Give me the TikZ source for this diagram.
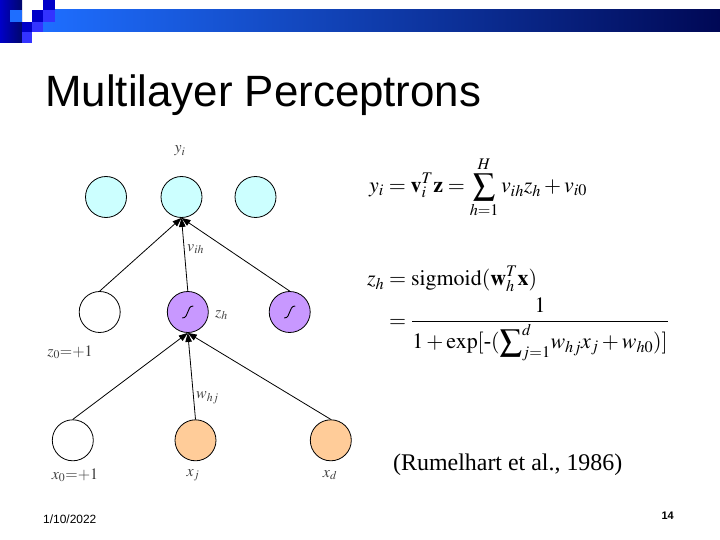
\documentclass[tikz,border=0pt]{standalone}
\usepackage{amsmath}
\usepackage{mathptmx}
\usepackage[no-math]{fontspec}
\newfontfamily\slidesans{Liberation Sans}
\newfontfamily\slideserif{Liberation Serif}
\usetikzlibrary{arrows.meta}

\definecolor{hdrdark}{RGB}{0,0,200}
\definecolor{hdrmid}{RGB}{51,51,255}
\definecolor{hdrbright}{RGB}{30,110,255}
\definecolor{hdrnavy}{RGB}{0,8,85}
\definecolor{outfill}{RGB}{204,255,255}
\definecolor{hidfill}{RGB}{200,152,255}
\definecolor{infill}{RGB}{255,204,153}

\begin{document}
\begin{tikzpicture}[x=1bp,y=-1bp,
  neuron/.style={draw,circle,minimum size=41bp,inner sep=0pt,line width=0.8bp},
  outunit/.style={neuron,fill=outfill},
  biasunit/.style={neuron,fill=white},
  inunit/.style={neuron,fill=infill},
  hidunit/.style={neuron,fill=hidfill,
    path picture={\draw[line width=0.9bp] ([shift={(-5.5,6)}]path picture bounding box.center)
      .. controls +(7,0) and +(-7,0) .. ([shift={(5.5,-6)}]path picture bounding box.center);}},
  conn/.style={-{Triangle[length=9bp,width=6.5bp]},line width=0.8bp},
  lbl/.style={text=black!75,font=\fontsize{16}{18}\selectfont,inner sep=0pt},
  eqn/.style={inner sep=0pt,font=\fontsize{22}{26}\selectfont}
]
\useasboundingbox[fill=white] (0,0) rectangle (720,540);

% slide header
\fill[left color=hdrdark,right color=hdrnavy!80!hdrdark] (0,0) rectangle (22,43);
\fill[left color=hdrbright,middle color={rgb,255:red,0;green,80;blue,200},right color=hdrnavy] (43,10) rectangle (720,32);
\fill[hdrbright] (10,10) rectangle (22,22);
\fill[hdrdark] (43,0) rectangle (55,10);
\fill[hdrdark] (32,10) rectangle (43,22);
\fill[hdrmid] (43,10) rectangle (55,22);
\fill[hdrdark] (22,22) rectangle (32,32);
\fill[hdrmid] (32,22) rectangle (43,32);
\fill[hdrmid] (22,32) rectangle (32,43);

\node[anchor=base west,inner sep=0pt,font=\slidesans\fontsize{44}{48}\selectfont] (title) at (45,107) {Multilayer Perceptrons};

% network
\node[outunit] (out1) at (106,197) {};
\node[outunit] (out2) at (181.5,197) {};
\node[outunit] (out3) at (255.5,197) {};
\node[biasunit] (bias1) at (99.7,312) {};
\node[hidunit] (hid1) at (187.8,312) {};
\node[hidunit] (hid2) at (289.7,312) {};
\node[biasunit] (in0) at (72.8,440.3) {};
\node[inunit] (inj) at (195.5,440.3) {};
\node[inunit] (ind) at (330.8,440.3) {};

\draw[conn] (bias1.north) -- (out2.south);
\draw[conn] (hid1.north) -- (out2.south);
\draw[conn] (hid2.north) -- (out2.south);
\draw[conn] (in0.north) -- (hid1.south);
\draw[conn] (inj.north) -- (hid1.south);
\draw[conn] (ind.north) -- (hid1.south);

\node[lbl] (ylbl) at (180,151) {$y_i$};
\node[lbl,anchor=west] (vlbl) at (187,249) {$v_{ih}$};
\node[lbl,anchor=west] (zlbl) at (215,315) {$z_h$};
\node[lbl] (z0lbl) at (70,352) {$z_0{=}{+}1$};
\node[lbl,anchor=west] (wlbl) at (196,398) {$w_{hj}$};
\node[lbl] (x0lbl) at (75,475) {$x_0{=}{+}1$};
\node[lbl] (xjlbl) at (193,475) {$x_j$};
\node[lbl] (xdlbl) at (330,475) {$x_d$};

% equations
\node[eqn,anchor=west] (eqout) at (369,187)
  {$\displaystyle y_i=\mathbf{v}_i^T\mathbf{z}=\sum_{h=1}^{H}v_{ih}z_h+v_{i0}$};
\node[eqn,anchor=north west] (eqhid) at (367,266)
  {$\displaystyle \begin{aligned}
    z_h &= \mathrm{sigmoid}(\mathbf{w}_h^T\mathbf{x})\\
        &= \frac{1}{1+\exp[\text{\slideserif -}({\displaystyle\sum\nolimits_{j=1}^{d}}w_{hj}x_j+w_{h0})]}
  \end{aligned}$};

\node[anchor=base west,inner sep=0pt,font=\slideserif\fontsize{24}{28}\selectfont] (cite) at (393,470) {(Rumelhart et al., 1986)};
\node[anchor=base west,inner sep=0pt,font=\slidesans\fontsize{12}{14}\selectfont] (date) at (43,523) {1/10/2022};
\node[anchor=base east,inner sep=0pt,font=\slidesans\bfseries\fontsize{11}{13}\selectfont] (pageno) at (674,519) {14};
\end{tikzpicture}
\end{document}
